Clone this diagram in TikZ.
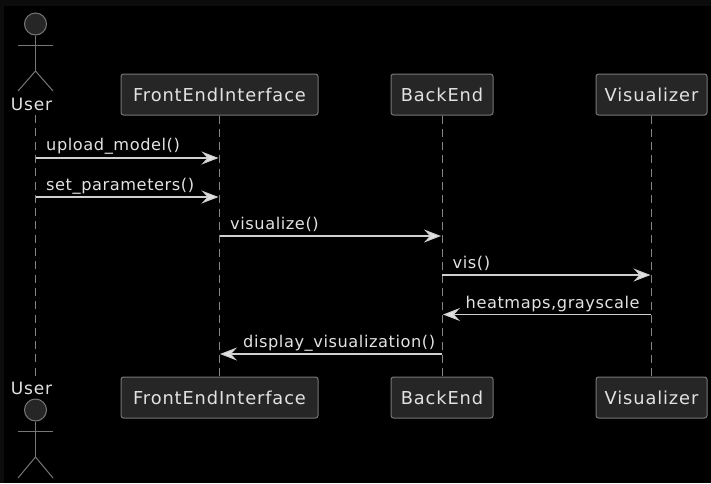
\documentclass[tikz,border=0pt]{standalone}
\usepackage{fontspec}
\setmainfont{DejaVu Sans}
\usepackage{xcolor}
\usetikzlibrary{arrows.meta,calc,positioning}
\definecolor{boxfill}{HTML}{262626}
\definecolor{boxline}{HTML}{777777}
\definecolor{lblcol}{HTML}{E2E2E2}
\definecolor{msgcol}{HTML}{D0D0D0}
\definecolor{lifecol}{HTML}{858585}
\definecolor{edgecol}{HTML}{0C0C0C}
\newfontfamily\partfont[LetterSpace=5]{DejaVu Sans}
\newfontfamily\msgfont[LetterSpace=3.5]{DejaVu Sans}
\tikzset{
  part/.style={draw=boxline, fill=boxfill, rounded corners=2.5pt, line width=1pt, text=lblcol, font=\partfont\fontsize{17.8}{21}\selectfont, inner sep=0pt, minimum height=41pt, anchor=center},
  lbl/.style={text=lblcol, font=\partfont\fontsize{17}{20}\selectfont, inner sep=0pt},
  msglbl/.style={text=lblcol, font=\msgfont\fontsize{16.2}{19}\selectfont, inner sep=0pt, anchor=base west},
  msg/.style={draw=msgcol, line width=1.1pt, -{Stealth[length=17pt, width=13pt, inset=6pt, fill=lblcol]}},
  life/.style={draw=lifecol, line width=1pt, dash pattern=on 8pt off 5.3pt},
  stick/.style={draw=boxline, line width=1pt},
  headc/.style={circle, draw=boxline, fill=boxfill, line width=1pt, minimum size=22pt, inner sep=0pt},
}
\begin{document}
\begin{tikzpicture}[x=1pt, y=-1pt]
                \useasboundingbox (0,0) rectangle (711,483);
                \fill[edgecol] (0,0) rectangle (711,483);
                \fill[black] (4,6) rectangle (711,483);

                % top row
                \node[part, minimum width=197pt] (FE) at (219.5,94.5) {FrontEndInterface};
                \node[part, minimum width=102pt] (BE) at (442,94.5) {BackEnd};
                \node[part, minimum width=111pt] (VI) at (651.5,94.5) {Visualizer};

                % bottom row
                \node[part, minimum width=197pt] (FEb) at (219.5,397.5) {FrontEndInterface};
                \node[part, minimum width=102pt] (BEb) at (442,397.5) {BackEnd};
                \node[part, minimum width=111pt] (VIb) at (651.5,397.5) {Visualizer};

                % actor on top
                \node[headc] (headT) at (35.5,24) {};
                \coordinate (hipT) at (35.5,71);
                \coordinate (armlT) at (18,45.5);
                \coordinate (armrT) at (53,45.5);
                \coordinate (leglT) at (18,91);
                \coordinate (legrT) at (53,91);
                \draw[stick] (headT) -- (hipT);
                \draw[stick] (armlT) -- (armrT);
                \draw[stick] (leglT) -- (hipT) -- (legrT);
                \node[lbl] (userT) at (31.5,104.5) {User};

                % actor below
                \node[lbl] (userB) at (31.5,388) {User};
                \node[headc] (headB) at (35.5,410) {};
                \coordinate (hipB) at (35.5,457);
                \coordinate (armlB) at (18,431.5);
                \coordinate (armrB) at (53,431.5);
                \coordinate (leglB) at (18,478);
                \coordinate (legrB) at (53,478);
                \draw[stick] (headB) -- (hipB);
                \draw[stick] (armlB) -- (armrB);
                \draw[stick] (leglB) -- (hipB) -- (legrB);

                % lifelines
                \coordinate (UStop) at (35.5,115);
                \coordinate (USend) at (35.5,378);
                \draw[life] (UStop) -- (USend);
                \draw[life] (FE.south) -- (FEb.north);
                \draw[life] (BE.south) -- (BEb.north);
                \draw[life] (VI.south) -- (VIb.north);

                % messages, lifeline ends
                \coordinate (a1) at (35.5,158);
                \coordinate (b1) at (218.5,158);
                \coordinate (a2) at (35.5,197);
                \coordinate (b2) at (218.5,197);
                \coordinate (a3) at (219.5,236);
                \coordinate (b3) at (441,236);
                \coordinate (a4) at (442,275);
                \coordinate (b4) at (650.5,275);
                \coordinate (a5) at (651,314.5);
                \coordinate (b5) at (443,314.5);
                \coordinate (a6) at (442,354);
                \coordinate (b6) at (220,354);

                \draw[msg] (a1) -- (b1);
                \draw[msg] (a2) -- (b2);
                \draw[msg] (a3) -- (b3);
                \draw[msg] (a4) -- (b4);
                \draw[msg] (a5) -- (b5);
                \draw[msg] (a6) -- (b6);

                \node[msglbl] (t1) at (46,150) {upload\_model()};
                \node[msglbl] (t2) at (46,190) {set\_parameters()};
                \node[msglbl] (t3) at (230,229) {visualize()};
                \node[msglbl] (t4) at (452.5,268) {vis()};
                \node[msglbl] (t5) at (465.5,308) {heatmaps,grayscale};
                \node[msglbl] (t6) at (243,347) {display\_visualization()};
            \end{tikzpicture}
\end{document}
